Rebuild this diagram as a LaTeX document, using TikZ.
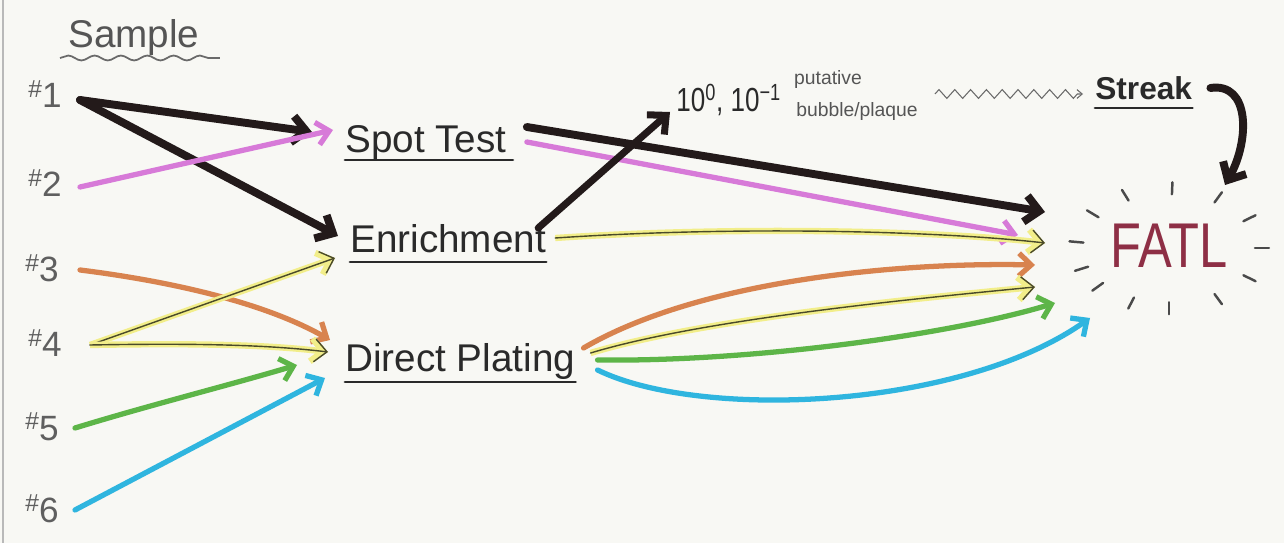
\documentclass[tikz,border=0pt]{standalone}
\usepackage{fontspec}
\setmainfont{Liberation Sans}
\usetikzlibrary{arrows.meta,decorations.pathmorphing,calc}
\definecolor{paper}{HTML}{F8F8F4}
\definecolor{ink}{HTML}{2A2A2A}
\definecolor{blk}{HTML}{231A1A}
\definecolor{pnk}{HTML}{D77AD8}
\definecolor{org}{HTML}{D8834F}
\definecolor{yel}{HTML}{F2EE8A}
\definecolor{yline}{HTML}{4A4A2A}
\definecolor{grn}{HTML}{5DB548}
\definecolor{cyn}{HTML}{2FB5DF}
\definecolor{fatlc}{HTML}{8E2F45}
\newcommand\srclabel[1]{{\fontsize{14}{14}\selectfont\raisebox{6pt}{\#}}{\fontsize{20}{20}\selectfont #1}}
\begin{document}
\begin{tikzpicture}[x=0.02cm,y=-0.02cm,
  lbl/.style={inner sep=0pt, anchor=base west, text=ink, font=\fontsize{22}{24}\selectfont},
  srcnode/.style={inner sep=0pt, anchor=base west, text=ink!75},
  smalltxt/.style={inner sep=0pt, text=ink!80, font=\fontsize{11}{12}\selectfont},
  ul/.style={draw=ink, line width=1.6pt, line cap=round},
  bk/.style={draw=blk, line width=4.5pt, line cap=round, -{Straight Barb[length=8pt,width=15pt]}},
  col/.style={line width=3pt, line cap=round, -{Straight Barb[length=7pt,width=13pt]}},
  yl/.style={draw=yline, line width=0.8pt, line cap=round, preaction={draw=yel, line width=3.6pt},
     -{Straight Barb[length=7pt,width=13pt]}},
  dashmark/.style={draw=ink!85, line width=1.4pt, line cap=round}]
\useasboundingbox (0,0) rectangle (1284,543);
\fill[paper] (0,0) rectangle (1284,543);
\draw[gray!55, line width=1pt] (3,0) -- (3,543);

% source labels
\node[srcnode] (s1) at (28,108) {\srclabel{1}};
\node[srcnode] (s2) at (28,197) {\srclabel{2}};
\node[srcnode] (s3) at (25,282) {\srclabel{3}};
\node[srcnode] (s4) at (28,357) {\srclabel{4}};
\node[srcnode] (s5) at (25,440) {\srclabel{5}};
\node[srcnode] (s6) at (25,522) {\srclabel{6}};

% main labels
\node[lbl, text=ink!80] (sample) at (68,48) {Sample};
\draw[draw=ink!70, line width=1pt, decorate, decoration={snake, amplitude=1.4pt, segment length=15pt}]
  ([shift={(-8,10)}]sample.base west) -- ([shift={(20,10)}]sample.base east);
\node[lbl] (spot) at (345,153) {Spot Test};
\draw[ul] ([shift={(0,7)}]spot.base west) -- ([shift={(6,7)}]spot.base east);
\node[lbl] (enrich) at (350,253) {Enrichment};
\draw[ul] ([shift={(0,9)}]enrich.base west) -- ([shift={(0,9)}]enrich.base east);
\node[lbl] (direct) at (345,372) {Direct Plating};
\draw[ul] ([shift={(0,10)}]direct.base west) -- ([shift={(0,10)}]direct.base east);

\node[lbl, font=\fontsize{19}{20}\selectfont] (ten) at (676,112) {\scalebox{0.78}[1]{10\textsuperscript{0}, 10\textsuperscript{−1}}};
\node[smalltxt] (put) at (828,80) {putative};
\node[smalltxt] (bub) at (857,112) {bubble/plaque};

\node[lbl, font=\bfseries\fontsize{18}{20}\selectfont] (streak) at (1095,100) {Streak};
\draw[ul] ([shift={(0,8)}]streak.base west) -- ([shift={(0,8)}]streak.base east);
\draw[draw=ink!70, line width=0.6pt, decorate, decoration={zigzag, amplitude=2.5pt, segment length=9pt}, -{Straight Barb[length=3pt,width=5pt]}]
  ([shift={(-160,-6)}]streak.base west) -- ([shift={(-12,-6)}]streak.base west);

\node[inner sep=0pt, anchor=base west, text=fatlc, font=\fontsize{36}{38}\selectfont] (fatl) at (1110,268) {\scalebox{0.8}[1]{FATL}};

% radiating dashes around FATL
\coordinate (fc) at ([shift={(0,2)}]fatl.center);
\foreach \a in {242,272,302,330,0,30,58,90,114,140,160,186,215}
  \draw[dashmark] ($(fc)+(\a:86 and 54)$) -- ($(fc)+(\a:100 and 66)$);

% sample -> method arrows
\draw[bk] ([shift={(52,-8)}]s1.base west) -- ([shift={(-33,-21)}]spot.base west);
\draw[bk] ([shift={(52,-8)}]s1.base west) -- ([shift={(-12,-17)}]enrich.base west);
\draw[col, draw=pnk] ([shift={(52,-10)}]s2.base west) -- ([shift={(-12,-23)}]spot.base west);
\draw[col, draw=org] ([shift={(55,-12)}]s3.base west) .. controls (160,280) and (260,300) .. ([shift={(-15,-32)}]direct.base west);
\draw[yl] ([shift={(62,-12)}]s4.base west) -- ([shift={(-15,5)}]enrich.base west);
\draw[yl] ([shift={(62,-12)}]s4.base west) .. controls (200,343) and (270,345) .. ([shift={(-17,-20)}]direct.base west);
\draw[col, draw=grn] ([shift={(50,-12)}]s5.base west) .. controls (150,405) and (230,385) .. ([shift={(-48,-7)}]direct.base west);
\draw[col, draw=cyn] ([shift={(50,-12)}]s6.base west) -- ([shift={(-20,6)}]direct.base west);

% method -> FATL arrows
\draw[bk] ([shift={(20,-26)}]spot.base east) -- ([shift={(-65,-56)}]fatl.base west);
\draw[col, draw=pnk] ([shift={(20,-11)}]spot.base east) -- ([shift={(-92,-33)}]fatl.base west);
\draw[bk, line width=4pt] ([shift={(-8,-25)}]enrich.base east) -- ([shift={(-6,0)}]ten.base west);
\draw[yl] ([shift={(9,-15)}]enrich.base east) .. controls (750,225) and (950,232) .. ([shift={(-65,-25)}]fatl.base west);
\draw[col, draw=org] ([shift={(8,-24)}]direct.base east) .. controls (700,280) and (900,262) .. ([shift={(-75,-3)}]fatl.base west);
\draw[yl] ([shift={(15,-19)}]direct.base east) .. controls (700,320) and (900,300) .. ([shift={(-75,19)}]fatl.base west);
\draw[col, draw=grn] ([shift={(22,-12)}]direct.base east) .. controls (750,362) and (950,335) .. ([shift={(-55,35)}]fatl.base west);
\draw[col, draw=cyn] ([shift={(22,-2)}]direct.base east) .. controls (700,420) and (960,410) .. ([shift={(-20,50)}]fatl.base west);

% streak -> FATL
\draw[bk] ([shift={(18,-12)}]streak.base east) .. controls (1250,82) and (1250,140) .. ([shift={(115,-83)}]fatl.base west);
\end{tikzpicture}
\end{document}
